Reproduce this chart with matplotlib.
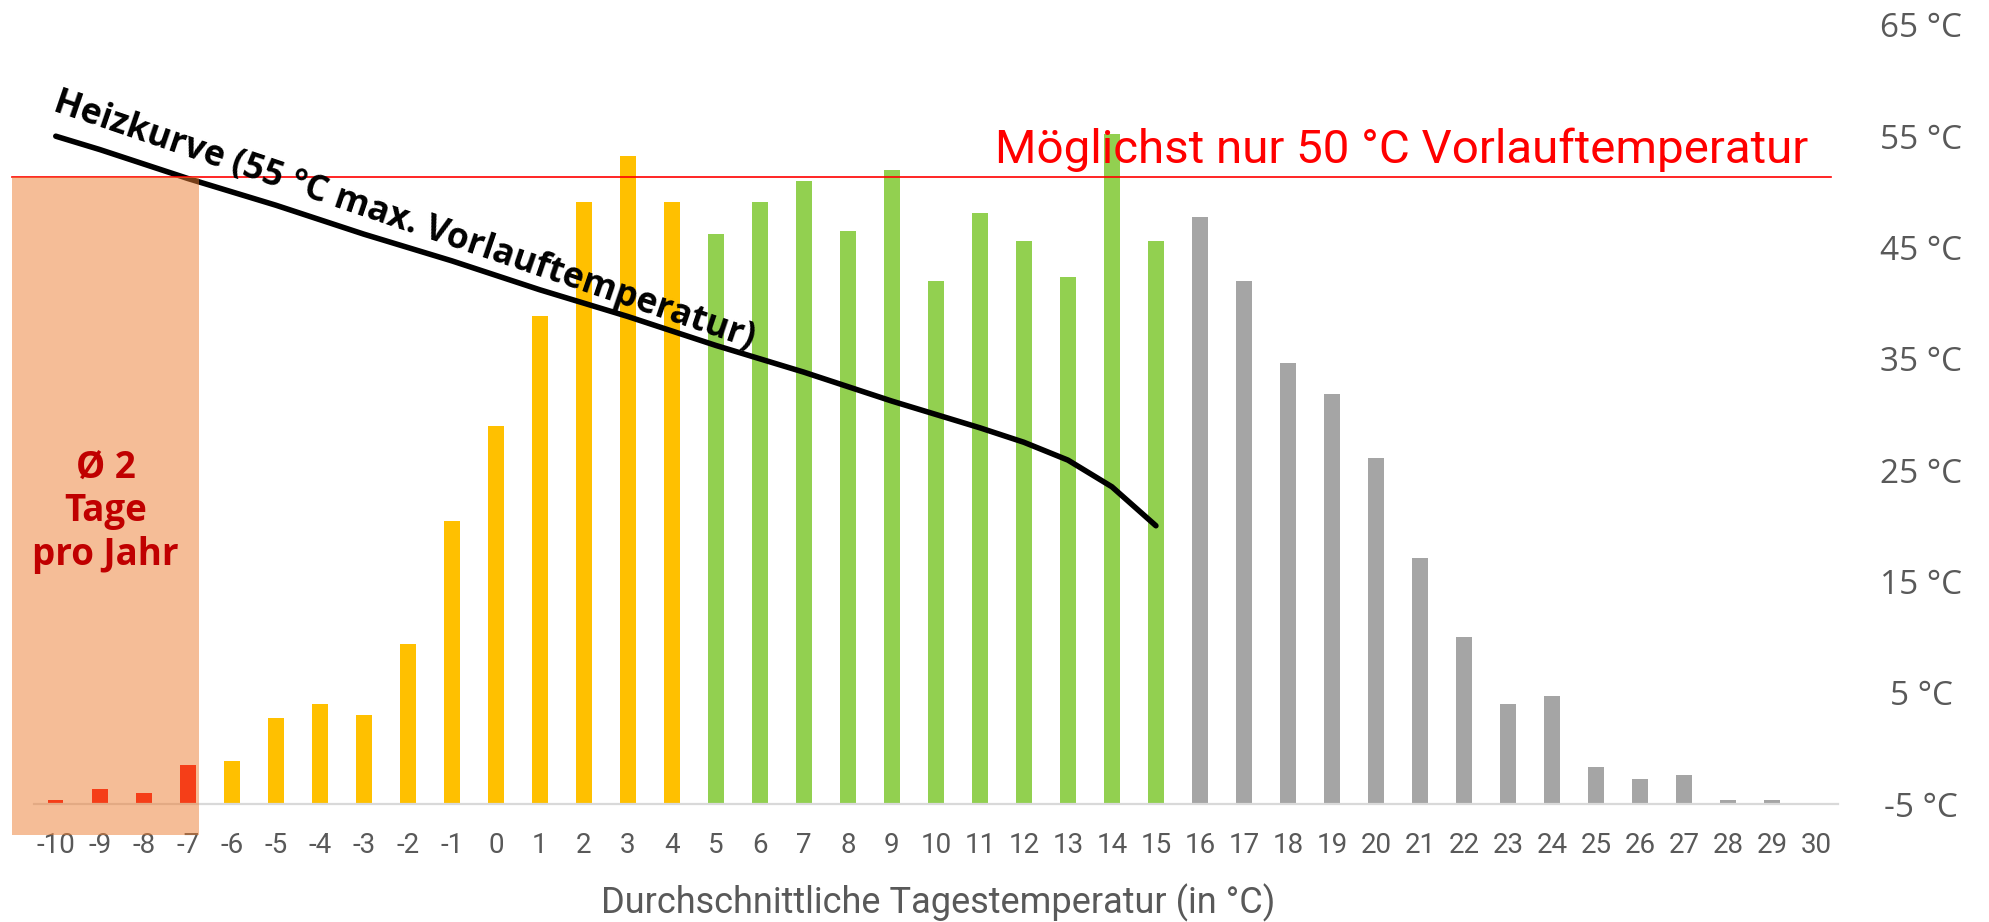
import matplotlib
matplotlib.use("Agg")
import matplotlib.pyplot as plt
from matplotlib import font_manager
from matplotlib.patches import Rectangle


def pick_font(*names):
    for n in names:
        try:
            font_manager.findfont(n, fallback_to_default=False)
            return n
        except ValueError:
            pass
    return "DejaVu Sans"


# ---- data ----------------------------------------------------------
# average daily temperature (°C) and average number of days per year
temps = list(range(-10, 31))
days = [0.12, 0.41, 0.30, 1.10, 1.21, 2.40, 2.81, 2.50, 4.48, 7.94,
        10.60, 13.69, 16.89, 18.18, 16.89, 15.99, 16.89, 17.48, 16.07, 17.78,
        14.67, 16.58, 15.79, 14.78, 18.79, 15.79, 16.47, 14.67, 12.37, 11.50,
        9.71, 6.90, 4.68, 2.81, 3.03, 1.04, 0.70, 0.81, 0.11, 0.11, 0.00]

# heating curve: flow temperature over outdoor temperature
curve_temps = list(range(-10, 16))
curve_flow = [55.0, 53.8, 52.5, 51.2, 50.0, 48.8, 47.5, 46.2, 45.0, 43.8,
              42.5, 41.2, 40.0, 38.8, 37.5, 36.2, 35.0, 33.8, 32.5, 31.2,
              30.0, 28.8, 27.5, 25.9, 23.5, 20.0]

flow_ticks = [-5, 5, 15, 25, 35, 45, 55, 65]
flow_labels = [f"{v} °C" for v in flow_ticks]

limit_flow = 51.35        # red "Möglichst nur 50 °C" line
frost_last = -7           # last category inside the shaded area

# ---- styling -------------------------------------------------------
C_FROST = "#FF0000"
C_COLD = "#FFC000"
C_MILD = "#92D050"
C_WARM = "#A5A5A5"
GREY_TXT = "#595959"

f_narrow = pick_font("Roboto", "Lato", "Noto Sans")
f_axis = pick_font("Open Sans", "Noto Sans")
f_bold = pick_font("Open Sans", "Noto Sans")

colors = []
for t in temps:
    if t <= frost_last:
        colors.append(C_FROST)
    elif t <= 4:
        colors.append(C_COLD)
    elif t <= 15:
        colors.append(C_MILD)
    else:
        colors.append(C_WARM)

fig = plt.figure(figsize=(19.89, 9.22), dpi=100)
ax = fig.add_axes([0.01699, 0.12798, 0.90709, 0.84501])
ax2 = ax.twinx()

# bars (days per year)
ax.bar(temps, days, width=0.35, color=colors, zorder=2)
ax.set_xlim(-10.5, 30.5)
ax.set_ylim(0, 21.85)
ax.set_yticks([])
for s in ["top", "right", "left"]:
    ax.spines[s].set_visible(False)
ax.spines["bottom"].set_color("#D9D9D9")
ax.spines["bottom"].set_linewidth(1.6)
ax.set_xticks(temps)
ax.set_xticklabels([str(t) for t in temps], fontfamily=f_narrow)
ax.tick_params(axis="x", length=0, pad=20, labelsize=20, labelcolor=GREY_TXT)
ax.set_xlabel("Durchschnittliche Tagestemperatur (in °C)", fontsize=26,
              color=GREY_TXT, fontfamily=f_narrow, va="center")
ax.xaxis.set_label_coords(0.501, -0.127)

# right axis (flow temperature)
ax2.set_ylim(-5, 65)
for s in ax2.spines.values():
    s.set_visible(False)
ax2.set_yticks(flow_ticks)
ax2.set_yticklabels(flow_labels, ha="center", fontfamily=f_axis)
ax2.tick_params(axis="y", length=0, pad=60, labelsize=24, labelcolor=GREY_TXT)

# heating curve
ax2.plot(curve_temps, curve_flow, color="black", lw=4,
         solid_capstyle="round", zorder=3)
ax2.text(-2.15, 46.6, "Heizkurve (55 °C max. Vorlauftemperatur)",
         rotation=-18.8, rotation_mode="anchor", ha="center", va="baseline",
         fontsize=25.5, fontweight="bold", fontfamily=f_bold, color="black",
         zorder=6)

# 50 °C target line
ax2.plot([temps[0] - 1, 30.35], [limit_flow, limit_flow], color="#FF0000",
         lw=1.2, clip_on=False, zorder=4)
ax2.text(29.82, 52.56, "Möglichst nur 50 °C Vorlauftemperatur", ha="right",
         va="baseline", fontsize=34.2, color="#FF0000", fontfamily=f_narrow,
         zorder=6)

# shaded frost area
shade_left = temps[0] - 1
shade_right = frost_last + 0.26
ax2.add_patch(Rectangle((shade_left, -7.79), shade_right - shade_left,
                        limit_flow + 7.79, facecolor="#ED7D31", alpha=0.5,
                        lw=0, clip_on=False, zorder=5))
ax2.text((shade_left + shade_right) / 2, 21.3, "Ø 2\nTage\npro Jahr",
         ha="center", va="center", fontsize=26.5, fontweight="bold",
         fontfamily=f_bold, color="#C00000", linespacing=1.2, zorder=6)

fig.savefig("out.png", dpi=100)
